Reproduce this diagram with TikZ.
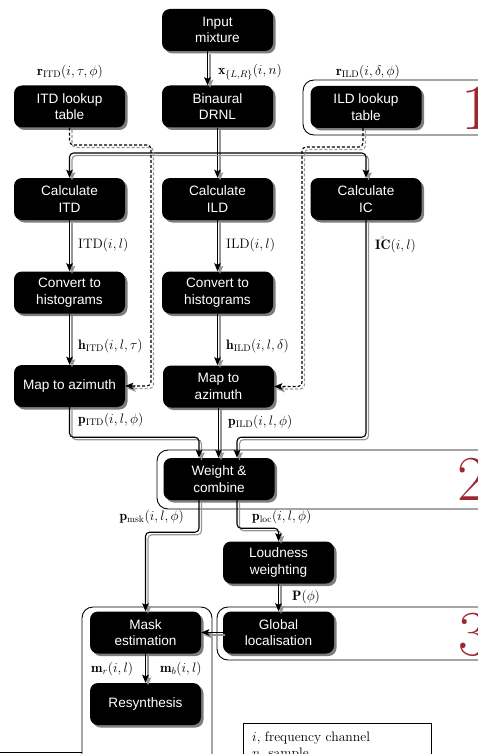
\RequirePackage{fix-cm}
\documentclass[tikz,border=0pt]{standalone}
\usepackage{fontspec}
\newfontfamily\nodefont{Liberation Sans}
\usetikzlibrary{arrows.meta,shadows}
\definecolor{numred}{RGB}{158,38,46}
\definecolor{shgray}{RGB}{125,125,125}
\definecolor{lngray}{RGB}{150,150,150}
\tikzset{
  blk/.style={rectangle, rounded corners=8pt, fill=black, text=white,
    minimum width=111pt, minimum height=42pt, inner sep=0pt, align=center,
    font=\nodefont\fontsize{13.6}{16.5}\selectfont,
    drop shadow={shadow xshift=2.5pt, shadow yshift=-2.5pt, fill=shgray, opacity=1}},
  conn/.style={line width=1.1pt, -{Stealth[length=8pt,width=6.5pt,inset=1.5pt]}, rounded corners=4pt},
  shadowln/.style={draw=lngray, transform canvas={shift={(2.5pt,-2.5pt)}}},
  dsh/.style={dash pattern=on 3pt off 2pt},
  frame/.style={draw=black, line width=0.9pt, rounded corners=11pt},
  lbl/.style={anchor=west, inner sep=0pt, font=\fontsize{13.7}{16}\selectfont},
  bignum/.style={anchor=base west, inner sep=0pt, text=numred, font=\fontsize{64}{64}\selectfont},
}
\newcommand{\cn}[2][]{\draw[conn,shadowln,#1] #2; \draw[conn,#1] #2;}
\begin{document}
\begin{tikzpicture}[x=1pt,y=-1pt]
\useasboundingbox (0,0) rectangle (478,754);
\clip (0,0) rectangle (478,754);
% frames
\draw[frame] (303,80) rectangle (540,135);
\draw[frame] (157,450) rectangle (540,509);
\draw[frame] (217,607) rectangle (540,660);
\draw[frame] (82,607) rectangle (212,820);
\draw[line width=1.3pt] (0,752.5) -- (82,752.5);
% numbers
\node[bignum] (n1) at (461,130) {1};
\node[bignum] (n2) at (457,500) {2};
\node[bignum] (n3) at (458.5,655) {3};
% blocks
\node[blk] (inp) at (217.5,30) {Input\\mixture};
\node[blk] (drnl) at (217.5,106.5) {Binaural\\DRNL};
\node[blk] (itdlut) at (69.5,106.5) {ITD lookup\\table};
\node[blk] (ildlut) at (366,107) {ILD lookup\\table};
\node[blk] (citd) at (69.5,199) {Calculate\\ITD};
\node[blk] (cild) at (217.5,199) {Calculate\\ILD};
\node[blk] (cic) at (366,199) {Calculate\\IC};
\node[blk] (hitd) at (69.5,292.5) {Convert to\\histograms};
\node[blk] (hild) at (217.5,292.5) {Convert to\\histograms};
\node[blk] (mitd) at (69.5,386) {Map to azimuth};
\node[blk] (mild) at (218.5,386.5) {Map to\\azimuth};
\node[blk] (wc) at (219,479) {Weight \&\\combine};
\node[blk] (loud) at (278.5,562.5) {Loudness\\weighting};
\node[blk] (glob) at (278.5,632.5) {Global\\localisation};
\node[blk] (mask) at (145.5,632.5) {Mask\\estimation};
\node[blk] (resyn) at (145.5,704) {Resynthesis};
% legend
\draw[line width=0.8pt] (243,723) rectangle (431,800);
\node[anchor=base west, inner sep=0pt, font=\fontsize{13.7}{16}\selectfont] (leg1) at (252,741) {$i,$ frequency channel};
\node[anchor=base west, inner sep=0pt, font=\fontsize{13.7}{16}\selectfont] (leg2) at (252,757.5) {$n,$ sample};
% connectors
\coordinate (j) at (217.5,153);
\coordinate (dA) at (151,145);
\coordinate (dB) at (302,147);
\cn{([xshift=-10pt]inp.south) -- ([xshift=-10pt]drnl.north)}
\cn{(drnl.south) -- (cild.north)}
\cn{(j) -| (citd.north)}
\cn{(j) -| (cic.north)}
\cn[dsh]{(itdlut.south) |- (dA) |- (mitd.east)}
\cn[dsh]{([xshift=-3pt]ildlut.south) |- (dB) |- (mild.east)}
\cn{(citd.south) -- (hitd.north)}
\cn{(hitd.south) -- (mitd.north)}
\cn{(cild.south) -- (hild.north)}
\cn{(hild.south) -- (hild.south |- mild.north)}
\cn{(mitd.south) -- ++(0,30) -| ([xshift=-20pt]wc.north)}
\cn{(mild.south) -- (mild.south |- wc.north)}
\cn{(cic.south) -- ++(0,217) -| ([xshift=18pt]wc.north)}
\cn{([xshift=-20pt]wc.south) -- ++(0,32) -| (mask.north)}
\cn{([xshift=18pt]wc.south) -- ++(0,28) -| (loud.north)}
\cn{(loud.south) -- (glob.north)}
\cn{(glob.west) -- (mask.east)}
\cn{(mask.south) -- (resyn.north)}
% labels
\node[lbl] (lx) at (218,72) {$\mathbf{x}_{\{L,R\}}(i,n)$};
\node[lbl,anchor=center] (lritd) at (70,72) {$\mathbf{r}_{\mathrm{ITD}}(i,\tau,\phi)$};
\node[lbl,anchor=center] (lrild) at (368,72) {$\mathbf{r}_{\mathrm{ILD}}(i,\delta,\phi)$};
\node[lbl] (litd) at (78,245) {$\mathrm{ITD}(i,l)$};
\node[lbl] (lild) at (226,245) {$\mathrm{ILD}(i,l)$};
\node[lbl] (lic) at (375,245) {$\mathring{\mathbf{IC}}(i,l)$};
\node[lbl] (lhitd) at (78,346) {$\mathbf{h}_{\mathrm{ITD}}(i,l,\tau)$};
\node[lbl] (lhild) at (226,346) {$\mathbf{h}_{\mathrm{ILD}}(i,l,\delta)$};
\node[lbl] (lpitd) at (78,420) {$\mathbf{p}_{\mathrm{ITD}}(i,l,\phi)$};
\node[lbl] (lpild) at (228,422) {$\mathbf{p}_{\mathrm{ILD}}(i,l,\phi)$};
\node[lbl,anchor=east] (lpmsk) at (184,517) {$\mathbf{p}_{\mathrm{msk}}(i,l,\phi)$};
\node[lbl] (lploc) at (252,517) {$\mathbf{p}_{\mathrm{loc}}(i,l,\phi)$};
\node[lbl] (lP) at (292,597) {$\mathbf{P}(\phi)$};
\node[lbl] (lmr) at (91,669) {$\mathbf{m}_r(i,l)$};
\node[lbl] (lmb) at (160,669) {$\mathbf{m}_b(i,l)$};
\end{tikzpicture}
\end{document}
